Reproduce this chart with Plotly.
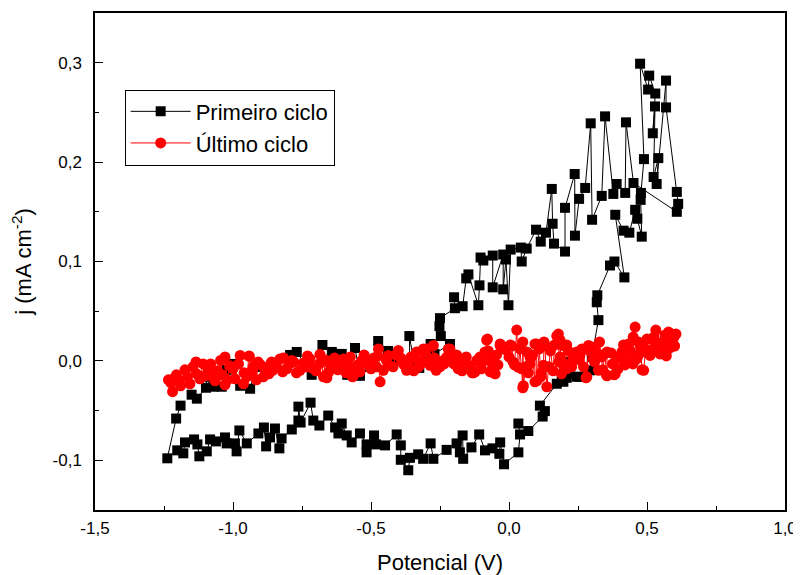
import plotly.graph_objects as go

# ---------------- data ----------------
# Primeiro ciclo (black squares), in scan order
primeiro_v = [
    -1.190, -1.206, -1.238,
    -1.202, -1.180, -1.174, -1.141, -1.129, -1.122, -1.095, -1.083, -1.062, -1.029, -1.023,
    -0.993, -0.987, -0.977, -0.950, -0.908, -0.888, -0.880, -0.866, -0.848, -0.832, -0.824,
    -0.787, -0.763, -0.763, -0.755, -0.719, -0.709, -0.687, -0.655, -0.630, -0.618, -0.606,
    -0.588, -0.570, -0.540, -0.516, -0.516, -0.489, -0.482, -0.449, -0.407, -0.392, -0.392,
    -0.365, -0.359, -0.329, -0.311, -0.284, -0.274, -0.226, -0.190, -0.178, -0.168, -0.166,
    -0.136, -0.108, -0.087, -0.060, -0.035, -0.032, -0.018, 0.034, 0.040, 0.034, 0.070,
    0.122, 0.130, 0.112, 0.173, 0.191, 0.197, 0.209, 0.215, 0.221, 0.245, 0.257, 0.294,
    0.300, 0.324, 0.318, 0.320, 0.366, 0.382, 0.418, 0.385, 0.415, 0.436, 0.457, 0.465,
    0.481, 0.477, 0.478, 0.489, 0.475, 0.504, 0.508, 0.530, 0.521, 0.529, 0.524, 0.541,
    0.535, 0.569, 0.569, 0.608, 0.613, 0.608,
    0.451, 0.424, 0.421, 0.390, 0.378, 0.348, 0.336, 0.301, 0.296, 0.276, 0.254, 0.239,
    0.238, 0.203, 0.203, 0.163, 0.158, 0.155, 0.134, 0.115, 0.098, 0.064, 0.046, 0.043,
    0.006, -0.002, -0.011, -0.021, -0.021, -0.059, -0.059, -0.093, -0.103, -0.107, -0.111,
    -0.147, -0.155, -0.168, -0.199, -0.196, -0.250, -0.252, -0.247, -0.214, -0.270, -0.284,
    -0.325, -0.341, -0.361, -0.359, -0.420, -0.438, -0.474, -0.503, -0.540, -0.558, -0.586,
    -0.606, -0.618, -0.642, -0.676, -0.715, -0.769, -0.793, -0.807, -0.844, -0.866, -0.881,
    -0.918, -0.938, -0.974, -1.001, -1.023, -1.041, -1.071, -1.094, -1.098, -1.131, -1.150,
]
primeiro_j = [
    -0.045, -0.058, -0.098,
    -0.090, -0.093, -0.082, -0.079, -0.084, -0.096, -0.091, -0.079, -0.081, -0.077, -0.083,
    -0.083, -0.091, -0.070, -0.083, -0.073, -0.067, -0.086, -0.077, -0.068, -0.088, -0.078,
    -0.069, -0.060, -0.046, -0.062, -0.042, -0.060, -0.065, -0.055, -0.067, -0.073, -0.063,
    -0.075, -0.082, -0.073, -0.084, -0.092, -0.075, -0.084, -0.085, -0.074, -0.085, -0.0995,
    -0.110, -0.0975, -0.094, -0.0985, -0.083, -0.0985, -0.0895, -0.083, -0.092, -0.075, -0.0985,
    -0.087, -0.074, -0.090, -0.088, -0.0935, -0.082, -0.104, -0.092, -0.074, -0.063, -0.0705,
    -0.056, -0.0505, -0.045, -0.023, -0.020, -0.021, -0.017, -0.013, -0.001, -0.016, -0.016, -0.0095,
    0.004, 0.041, 0.059, 0.066, 0.096, 0.100, 0.084, 0.147, 0.131, 0.129, 0.152, 0.143,
    0.125, 0.162, 0.169, 0.203, 0.299, 0.273, 0.287, 0.269, 0.229, 0.256, 0.185, 0.204,
    0.178, 0.282, 0.255, 0.170, 0.158, 0.150,
    0.179, 0.240, 0.169, 0.178, 0.168, 0.246, 0.166, 0.142, 0.239, 0.174, 0.163, 0.126,
    0.188, 0.154, 0.110, 0.118, 0.138, 0.173, 0.129, 0.120, 0.132, 0.113, 0.100, 0.114,
    0.112, 0.056, 0.102, 0.072, 0.107, 0.074, 0.106, 0.101, 0.104, 0.076, 0.056,
    0.087, 0.083, 0.055, 0.064, 0.053, 0.043, 0.035, 0.025, 0.017, 0.007, 0.017,
    -0.007, -0.006, 0.025, -0.007, -0.003, 0.010, 0.020, -0.006, -0.015, 0.013, -0.014,
    0.007, 0.007, 0.009, 0.016, -0.014, 0.009, 0.006, 0.003, -0.003, -0.007, -0.012,
    -0.006, -0.028, -0.025, -0.003, -0.009, -0.026, -0.026, -0.016, -0.027, -0.038, -0.034,
]

# Último ciclo (red circles)
ultimo_v = [
    -1.234, -1.219, -1.216, -1.195, -1.174, -1.156, -1.134, -1.132, -1.108, -1.101, -1.081,
    -1.074, -1.065, -1.045, -1.029, -1.029, -1.011, -0.993, -0.974, -0.962, -0.960, -0.942,
    -0.941, -0.926, -0.909, -0.890, -0.884, -0.863, -0.860, -0.856, -0.830, -0.817, -0.805,
    -0.787, -0.780, -0.757, -0.734, -0.721, -0.715, -0.687, -0.685, -0.672, -0.660, -0.648,
    -0.641, -0.632, -0.630, -0.612, -0.582, -0.567, -0.564, -0.549, -0.533, -0.515, -0.512,
    -0.475, -0.473, -0.467, -0.455, -0.438, -0.437, -0.401, -0.392, -0.389, -0.371, -0.364,
    -0.335, -0.329, -0.327, -0.310, -0.298, -0.286, -0.281, -0.274, -0.264, -0.238, -0.235,
    -0.220, -0.216, -0.214, -0.184, -0.179, -0.166, -0.133, -0.129, -0.123, -0.117, -0.096,
    -0.087, -0.081, -0.078, -0.068, -0.068, -0.063, -0.059, -0.056, -0.050, -0.032, -0.032,
    -0.022, -0.021, 0.010, 0.015, 0.028, 0.034, 0.046, 0.050, 0.050, 0.052, 0.061, 0.076,
    0.076, 0.079, 0.094, 0.094, 0.100, 0.101, 0.116, 0.125, 0.127, 0.130, 0.137, 0.144,
    0.173, 0.179, 0.181, 0.185, 0.185, 0.197, 0.197, 0.209, 0.209, 0.227, 0.233, 0.239,
    0.255, 0.257, 0.264, 0.279, 0.282, 0.288, 0.292, 0.306, 0.310, 0.324, 0.328, 0.347,
    0.353, 0.355, 0.355, 0.375, 0.381, 0.385, 0.390, 0.403, 0.409, 0.427, 0.433, 0.433,
    0.449, 0.457, 0.463, 0.469, 0.477, 0.482, 0.488, 0.504, 0.511, 0.529, 0.532, 0.541,
    0.547, 0.559, 0.560, 0.578, 0.578, 0.581, 0.588, 0.593, 0.596,
    -1.225, -1.205, -1.190, -1.165, -1.145, -1.120, -1.090, -1.055, -1.040, -1.020, -1.000,
    -0.980, -0.950, -0.930, -0.915, -0.900, -0.870, -0.845, -0.820, -0.795, -0.770, -0.745,
    -0.730, -0.700, -0.665, -0.655, -0.620, -0.600, -0.590, -0.575, -0.555, -0.540, -0.525,
    -0.500, -0.490, -0.480, -0.445, -0.420, -0.410, -0.380, -0.355, -0.345, -0.315, -0.300,
    -0.270, -0.250, -0.225, -0.200, -0.190, -0.170, -0.155, -0.140, -0.105, -0.100, -0.075,
    -0.045, -0.040, -0.010, 0.000, 0.005, 0.020, 0.040, 0.065, 0.070, 0.085, 0.110, 0.115,
    0.150, 0.160, 0.165, 0.190, 0.215, 0.220, 0.245, 0.270, 0.300, 0.315, 0.335, 0.340,
    0.370, 0.395, 0.415, 0.420, 0.440, 0.450, 0.470, 0.495, 0.500, 0.520, 0.525, 0.550,
    0.565, 0.570, 0.585, 0.600, 0.605,
]
ultimo_j = [
    -0.019, -0.031, -0.018, -0.020, -0.009, -0.023, -0.001, -0.013, -0.003, -0.015, -0.003,
    -0.016, -0.020, 0.0005, 0.004, -0.024, -0.005, -0.018, 0.0055, -0.023, -0.012, 0.005,
    0.0045, -0.0055, -0.001, -0.016, -0.009, -0.003, -0.001, -0.0095, 0.002, 0.003, -0.008,
    0.0005, -0.001, -0.0095, -0.006, 0.002, -0.007, -0.003, 0.0065, -0.016, -0.017, -0.003,
    -0.008, 0.003, 0.0005, -0.0055, -0.0045, -0.016, -0.015, -0.004, 0.0005, -0.003, -0.001,
    0.005, 0.012, -0.021, -0.0095, -0.004, 0.0055, 0.0105, 0.003, 0.0005, -0.0095, -0.001,
    0.009, 0.0005, -0.006, 0.012, 0.012, -0.0045, -0.001, 0.0155, -0.0095, 0.0005, -0.003,
    0.012, 0.0085, 0.012, -0.008, -0.006, 0.0005, -0.012, -0.012, -0.011, 0.0005, -0.001,
    0.009, 0.021, 0.022, 0.0005, -0.011, -0.001, -0.006, -0.012, -0.013, 0.017, 0.0155,
    0.012, 0.014, 0.015, -0.001, 0.031, -0.0065, -0.008, 0.019, -0.027, -0.025, -0.006, 0.004,
    -0.003, 0.003, 0.017, -0.021, 0.017, -0.020, -0.012, -0.0045, 0.019, 0.0155, -0.026, -0.006,
    0.025, 0.027, -0.001, 0.004, 0.021, 0.0155, -0.0045, -0.008, 0.016, -0.006, 0.002, 0.004,
    0.001, 0.0055, 0.012, -0.017, -0.016, 0.0155, 0.010, 0.002, -0.001, -0.0095, 0.019, 0.007,
    -0.014, 0.009, -0.015, -0.003, -0.014, -0.013, 0.004, 0.003, 0.009, 0.008, 0.017, -0.001,
    -0.003, 0.034, 0.002, 0.019, 0.014, -0.009, -0.0095, 0.008, 0.0055, 0.017, 0.031, 0.016,
    0.007, 0.0105, 0.010, 0.012, 0.029, 0.028, 0.014, 0.023, 0.023,
    -0.022, -0.014, -0.025, -0.016, -0.006, -0.018, -0.008, -0.010, -0.014, -0.019, -0.008,
    -0.003, -0.016, -0.010, -0.019, -0.004, -0.013, -0.005, -0.011, -0.003, -0.012, -0.002,
    0.005, -0.010, 0.001, -0.012, -0.009, 0.002, -0.012, 0.004, -0.008, -0.011, 0.006,
    -0.008, 0.003, -0.006, 0.001, -0.006, 0.006, -0.004, 0.004, -0.010, -0.002, 0.005,
    0.003, -0.006, 0.004, -0.003, 0.006, -0.010, 0.004, -0.005, 0.004, -0.008, 0.010,
    0.006, -0.004, 0.011, 0.004, 0.016, -0.004, 0.012, 0.009, -0.012, 0.006, 0.012, -0.016,
    0.010, -0.010, 0.016, -0.013, 0.010, -0.003, 0.009, -0.006, 0.014, 0.009, 0.004, -0.009,
    0.008, -0.008, 0.016, -0.004, 0.010, 0.024, 0.006, 0.012, 0.022, 0.010, 0.024, 0.018,
    0.026, 0.005, 0.018, 0.015, 0.027,
]

x_tickvals = [-1.5, -1.0, -0.5, 0.0, 0.5, 1.0]
x_ticktext = ["-1,5", "-1,0", "-0,5", "0,0", "0,5", "1,0"]
y_tickvals = [-0.1, 0.0, 0.1, 0.2, 0.3]
y_ticktext = ["-0,1", "0,0", "0,1", "0,2", "0,3"]

# draw the last cycle in potential order
_pairs = sorted(zip(ultimo_v, ultimo_j))
ultimo_v_plot = [p[0] for p in _pairs]
ultimo_j_plot = [p[1] for p in _pairs]

# ---------------- figure ----------------
fig = go.Figure()
fig.add_trace(go.Scatter(
    x=primeiro_v, y=primeiro_j, mode="lines+markers", name="Primeiro ciclo",
    line=dict(color="black", width=1),
    marker=dict(symbol="square", size=10, color="black"),
))
fig.add_trace(go.Scatter(
    x=ultimo_v_plot, y=ultimo_j_plot, mode="lines+markers", name="Último ciclo",
    line=dict(color="red", width=1),
    marker=dict(symbol="circle", size=11, color="red"),
))

font_family = "Liberation Sans, Arial, sans-serif"
axis_common = dict(
    showline=True, linecolor="black", linewidth=1.5, mirror=True,
    showgrid=False, zeroline=False, automargin=False,
    ticks="inside", ticklen=8, tickwidth=1, tickcolor="black",
    tickfont=dict(family=font_family, size=17, color="black"),
)

# the page body adds an 8 px offset, so the figure is 8 px smaller
fig.update_layout(
    width=793, height=567,
    paper_bgcolor="white", plot_bgcolor="white",
    margin=dict(l=87, r=16, t=5, b=65, autoexpand=False),
    font=dict(family=font_family, color="black"),
    showlegend=True,
    legend=dict(
        x=0.043, y=0.846, xanchor="left", yanchor="top",
        bordercolor="black", borderwidth=1, bgcolor="white",
        font=dict(family=font_family, size=22, color="black"),
        itemwidth=60, tracegroupgap=0,
    ),
    xaxis=dict(
        range=[-1.5, 1.0], tickmode="array", tickvals=x_tickvals, ticktext=x_ticktext,
        ticklabelstandoff=2,
        minor=dict(tickmode="linear", tick0=-1.5, dtick=0.25, ticks="inside", ticklen=4,
                   tickcolor="black", showgrid=False),
        title=dict(text="Potencial (V)", font=dict(family=font_family, size=22), standoff=20),
        **axis_common,
    ),
    yaxis=dict(
        range=[-0.15, 0.35], tickmode="array", tickvals=y_tickvals, ticktext=y_ticktext,
        ticklabelstandoff=8,
        minor=dict(tickmode="linear", tick0=-0.15, dtick=0.05, ticks="inside", ticklen=4,
                   tickcolor="black", showgrid=False),
        title=dict(text="j (mA cm<sup>-2</sup>)", font=dict(family=font_family, size=22), standoff=22),
        **axis_common,
    ),
)

fig.write_html("out.html")
